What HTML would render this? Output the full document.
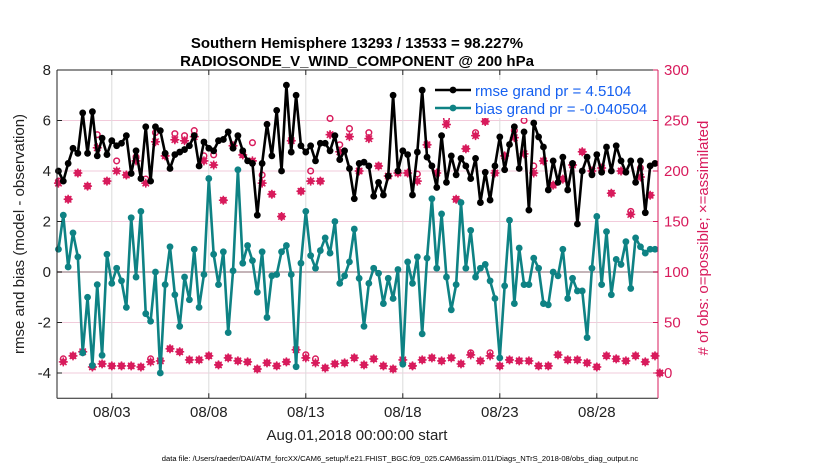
<!DOCTYPE html>
<html><head><meta charset="utf-8"><style>
body{margin:0;background:#fff}
svg{display:block;font-family:"Liberation Sans",sans-serif}
</style></head><body>
<svg id="chart" width="830" height="470" viewBox="0 0 830 470"></svg>
<script>
const dayStart = -0.75, dayStep = 0.25;
const rmse = [4.0,3.6,4.3,4.9,4.7,6.3,4.7,6.35,4.6,5.3,4.65,5.2,5.0,5.1,5.4,3.9,4.8,3.7,5.75,3.6,5.75,5.6,4.7,4.1,4.65,4.75,4.85,5.0,5.4,4.2,5.15,4.9,
4.8,5.2,5.25,5.55,4.9,5.4,4.8,4.4,4.3,2.25,4.3,5.85,4.6,6.4,4.0,7.4,4.75,7.0,5.0,4.75,5.0,4.4,5.1,5.1,4.8,5.4,4.45,4.8,4.1,2.9,4.3,
4.35,4.2,3.0,3.55,3.05,3.8,7.0,4.0,4.8,4.65,3.05,4.75,7.2,4.55,4.2,3.35,5.4,3.55,4.6,3.85,4.5,4.2,3.7,4.5,2.75,3.95,2.85,4.2,5.35,4.05,
5.05,5.75,4.1,5.55,2.45,5.9,5.35,4.95,3.25,4.4,3.55,4.55,3.25,4.3,1.9,4.0,4.55,3.85,4.65,3.95,4.95,4.0,5.0,4.4,3.95,4.4,3.55,4.4,2.35,4.2,4.3];
const bias = [0.9,2.25,0.2,1.55,0.6,-3.2,-1.0,-3.7,-0.5,-3.3,0.7,-0.45,0.15,-0.35,-1.4,2.15,-0.2,2.4,-1.65,-1.95,0,-4.0,-0.5,1.0,-0.9,-2.15,-0.2,-1.1,0.9,-1.4,-0.1,3.7,
0.7,-0.5,0.8,-2.4,0.05,4.05,0.35,1.05,0.45,-0.8,0.8,-1.8,-0.15,-0.1,0.8,1.05,-0.1,-3.75,0.35,2.4,0.65,0.15,0.85,1.35,0.75,2.0,-0.45,-0.15,0.4,1.7,-0.25,
-2.15,-0.45,0.15,-0.05,-1.25,-0.25,-1.05,0.1,-3.65,0.4,-0.45,0.6,-2.45,0.55,2.9,0.15,2.3,-0.2,-1.5,-0.5,2.75,0.15,1.65,-0.2,0.15,0.3,-0.35,-1.05,-3.4,-0.55,
2.05,-1.25,0.95,-0.5,-0.5,0.55,0.15,-1.25,-1.3,0,-0.15,0.9,-1.05,-0.25,-0.75,-0.75,-2.6,0.15,2.2,-0.5,1.6,-0.9,0.5,0.3,1.2,-0.65,1.35,1.0,0.75,0.9,0.9];
const assimilated = [188,11,172,17,198,21,185,6,223,9,190,7,200,7,196,7,210,6,188,11,229,12,215,24,231,21,230,13,234,13,210,17,
206,8,171,15,225,12,216,11,210,4,188,10,177,7,155,11,230,23,180,15,190,10,190,5,236,9,219,10,234,15,200,8,232,14,205,7,195,4,198,13,198,7,190,13,226,15,198,12,246,15,172,9,222,18,235,12,249,17,198,7,215,13,233,12,217,12,198,7,210,7,186,18,192,13,206,13,219,10,200,6,203,17,178,14,200,12,157,17,194,11,176,17,0];
const possible = [190,14,172,17,198,21,185,6,236,9,190,7,210,7,196,7,214,6,192,14,238,12,215,24,237,21,235,13,240,13,215,17,
216,8,171,15,225,12,216,11,228,4,196,10,177,7,155,11,230,23,180,18,200,14,190,5,252,9,226,10,242,15,200,8,238,14,205,7,195,4,198,13,198,7,197,13,226,15,198,12,252,15,172,9,222,20,238,12,249,20,198,7,215,13,240,12,250,12,205,7,210,7,186,18,192,13,206,13,219,10,200,6,203,17,178,14,200,12,160,17,203,11,176,17,0];
const leftTicks = [8,6,4,2,0,-2,-4];
const rightTicks = [300,250,200,150,100,50,0];
const xTickDays = [2,7,12,17,22,27];
const xTickLabels = ["08/03","08/08","08/13","08/18","08/23","08/28"];

const svg = document.getElementById('chart');
const NS = 'http://www.w3.org/2000/svg';
const PL=57, PR=658, PT=70, PB=398.25;
const xDay = d => 73 + 19.4*d;
const yL = v => 272 - 25.25*v;
const yR = o => 373 - 1.01*o;
const MAG = '#d81b5c', TEAL = '#0e8284';
function mk(tag, attrs, parent){const e=document.createElementNS(NS,tag);for(const k in attrs)e.setAttribute(k,attrs[k]);(parent||svg).appendChild(e);return e;}
function txt(s, attrs, parent){const e=mk('text',attrs,parent);e.textContent=s;return e;}

const bg = mk('rect',{x:PL,y:PT,width:PR-PL,height:PB-PT,fill:'#fff'});



const grid = mk('g',{});


leftTicks.forEach(v=>{ if(v!==0){ mk('line',{x1:PL,x2:PR,y1:yL(v),y2:yL(v),stroke:'#f2cbdb','stroke-width':1},grid);} });
xTickDays.forEach(d=>{ mk('line',{x1:xDay(d),x2:xDay(d),y1:PT,y2:PB,stroke:'#dcdcdc','stroke-width':1},grid); });
const zl = mk('line',{x1:PL,x2:PR,y1:yL(0),y2:yL(0),stroke:'#c4b4b8','stroke-width':2});



const obsG = mk('g',{});


possible.forEach((o,i)=>{
  const x = xDay(dayStart+dayStep*i), y=yR(o);
  const c = mk('circle',{cx:x,cy:y,r:2.8,fill:'none',stroke:MAG,'stroke-width':1.5},obsG);
  
  
});
assimilated.forEach((o,i)=>{
  const x = xDay(dayStart+dayStep*i), y=yR(o);
  const g = mk('g',{},obsG);
  
  
  mk('path',{d:`M${x} ${y-4}L${x+4} ${y}L${x} ${y+4}L${x-4} ${y}Z`,fill:MAG},g);
  mk('path',{d:`M${x-4.5} ${y}H${x+4.5}M${x} ${y-4.5}V${y+4.5}M${x-3.2} ${y-3.2}L${x+3.2} ${y+3.2}M${x-3.2} ${y+3.2}L${x+3.2} ${y-3.2}`,stroke:MAG,'stroke-width':1.5},g);
});

function series(vals,color,name){
  const g = mk('g',{});
  
  
  const pts = vals.map((v,i)=>xDay(dayStart+dayStep*i).toFixed(2)+','+yL(v).toFixed(2)).join(' ');
  mk('polyline',{points:pts,fill:'none',stroke:color,'stroke-width':2.6,'stroke-linejoin':'round'},g);
  vals.forEach((v,i)=>{
    const c = mk('circle',{cx:xDay(dayStart+dayStep*i),cy:yL(v),r:3.4,fill:color},g);
    
    
  });
}
series(bias,TEAL,'bias-series');
series(rmse,'#000','rmse-series');

const ax = mk('g',{});


mk('line',{x1:PL,x2:PL,y1:PT,y2:PB,stroke:'#222','stroke-width':1},ax);
mk('line',{x1:PL,x2:PR,y1:PT,y2:PT,stroke:'#222','stroke-width':1},ax);
mk('line',{x1:PL,x2:PR,y1:PB,y2:PB,stroke:'#222','stroke-width':1},ax);
mk('line',{x1:PR,x2:PR,y1:PT,y2:PB,stroke:MAG,'stroke-width':1},ax);
leftTicks.forEach(v=>{
  mk('line',{x1:PL,x2:PL+5,y1:yL(v),y2:yL(v),stroke:'#222'},ax);
  const t=txt(String(v),{x:51,y:yL(v)+5,'text-anchor':'end','font-size':15,fill:'#222'},ax);
  
  
});
rightTicks.forEach(o=>{
  mk('line',{x1:PR-5,x2:PR,y1:yR(o),y2:yR(o),stroke:MAG},ax);
  const t=txt(String(o),{x:664,y:yR(o)+5,'font-size':15,fill:MAG},ax);
  
  
});
xTickDays.forEach((d,k)=>{
  mk('line',{x1:xDay(d),x2:xDay(d),y1:PB,y2:PB-5,stroke:'#222'},ax);
  mk('line',{x1:xDay(d),x2:xDay(d),y1:PT,y2:PT+5,stroke:'#222'},ax);
  const t=txt(xTickLabels[k],{x:xDay(d),y:417,'text-anchor':'middle','font-size':15,fill:'#222'},ax);
  
  
});

const t1=txt('Southern Hemisphere 13293 / 13533 = 98.227%',{x:357,y:48,'text-anchor':'middle','font-size':15,'font-weight':'bold',fill:'#000'});


const t2=txt('RADIOSONDE_V_WIND_COMPONENT @ 200 hPa',{x:357,y:66,'text-anchor':'middle','font-size':15,'font-weight':'bold',fill:'#000'});


const yl=txt('rmse and bias (model - observation)',{x:0,y:0,'text-anchor':'middle','font-size':15,fill:'#222',transform:'translate(24,234) rotate(-90)'});


const yr=txt('# of obs: o=possible; \u00d7=assimilated',{x:0,y:0,'text-anchor':'middle','font-size':15,fill:MAG,transform:'translate(708,238) rotate(-90)'});


const xl=txt('Aug.01,2018 00:00:00 start',{x:357,y:440,'text-anchor':'middle','font-size':15,fill:'#222'});


const fn=txt('data file: /Users/raeder/DAI/ATM_forcXX/CAM6_setup/f.e21.FHIST_BGC.f09_025.CAM6assim.011/Diags_NTrS_2018-08/obs_diag_output.nc',{x:400,y:461,'text-anchor':'middle','font-size':7.6,fill:'#000'});



const lg = mk('g',{});


mk('rect',{x:432,y:80,width:212,height:38,fill:'#fff'},lg);
const le1 = mk('g',{},lg);


mk('line',{x1:435,x2:471,y1:90,y2:90,stroke:'#000','stroke-width':2.6},le1);
mk('circle',{cx:453,cy:90,r:3.4,fill:'#000'},le1);
txt('rmse grand pr = 4.5104',{x:475,y:96,'font-size':15,fill:'#1560f0'},le1);
const le2 = mk('g',{},lg);


mk('line',{x1:435,x2:471,y1:108,y2:108,stroke:TEAL,'stroke-width':2.6},le2);
mk('circle',{cx:453,cy:108,r:3.4,fill:TEAL},le2);
txt('bias grand pr = -0.040504',{x:475,y:114,'font-size':15,fill:'#1560f0'},le2);
</script>
</body></html>
